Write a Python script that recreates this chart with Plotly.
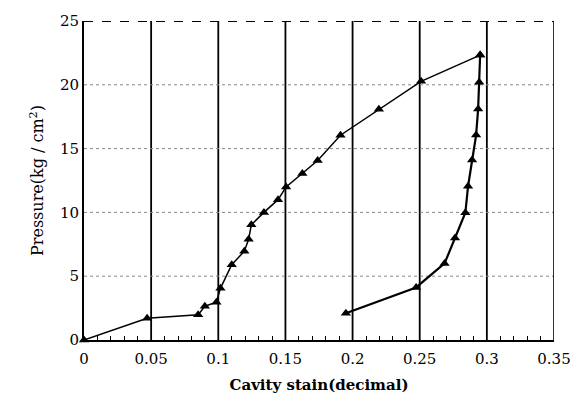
import plotly.graph_objects as go

# Loading branch
load_strain = [0.0, 0.047, 0.085, 0.090, 0.0986, 0.1016, 0.110, 0.1194, 0.1226, 0.1246,
               0.134, 0.1445, 0.1505, 0.1626, 0.174, 0.191, 0.2196, 0.251, 0.295]
load_pressure = [0.0, 1.7, 1.97, 2.65, 2.96, 4.05, 5.9, 6.96, 7.9, 9.03,
                 10.0, 11.0, 12.0, 13.04, 14.07, 16.05, 18.08, 20.27, 22.33]

# Unloading branch
unload_strain = [0.295, 0.2943, 0.2935, 0.292, 0.289, 0.286, 0.284, 0.2763, 0.2685, 0.2473, 0.195]
unload_pressure = [22.33, 20.2, 18.1, 16.06, 14.1, 12.05, 9.97, 8.0, 6.0, 4.12, 2.1]

x_ticks = [0, 0.05, 0.1, 0.15, 0.2, 0.25, 0.3, 0.35]
x_tick_labels = ["0", "0.05", "0.1", "0.15", "0.2", "0.25", "0.3", "0.35"]
y_ticks = [0, 5, 10, 15, 20, 25]

font_family = "DejaVu Serif, Liberation Serif, serif"

fig = go.Figure()
fig.add_trace(go.Scatter(
    x=load_strain, y=load_pressure, mode="lines+markers",
    line=dict(color="black", width=1.5),
    marker=dict(symbol="triangle-up", size=9, color="black"),
    showlegend=False, cliponaxis=False))
fig.add_trace(go.Scatter(
    x=unload_strain, y=unload_pressure, mode="lines+markers",
    line=dict(color="black", width=2.2),
    marker=dict(symbol="triangle-up", size=9, color="black"),
    showlegend=False, cliponaxis=False))

# vertical solid grid lines
for xv in x_ticks[1:-1]:
    fig.add_shape(type="line", xref="x", yref="y", x0=xv, x1=xv, y0=0, y1=25,
                  line=dict(color="black", width=1.8), layer="below")
# horizontal dotted grid lines
for yv in y_ticks[1:-1]:
    fig.add_shape(type="line", xref="x", yref="y", x0=0, x1=0.35, y0=yv, y1=yv,
                  line=dict(color="#888888", width=1, dash="dot"), layer="below")
# top border dashed, right border
fig.add_shape(type="line", xref="x", yref="y", x0=0, x1=0.35, y0=25, y1=25,
              line=dict(color="black", width=1.8, dash="dash"))
fig.add_shape(type="line", xref="x", yref="y", x0=0.35, x1=0.35, y0=0, y1=25,
              line=dict(color="black", width=1.6))

fig.update_xaxes(
    range=[0, 0.35], tickvals=x_ticks, ticktext=x_tick_labels,
    showgrid=False, zeroline=False, showline=True, linecolor="black", linewidth=2,
    ticks="inside", ticklen=5, tickcolor="black", ticklabelstandoff=4,
    minor=dict(dtick=0.01, ticks="inside", ticklen=4, tickcolor="black"),
    tickfont=dict(family=font_family, size=15, color="black"),
    title=dict(text="<b>Cavity stain(decimal)</b>",
               font=dict(family=font_family, size=15, color="black"), standoff=12))
fig.update_yaxes(
    range=[0, 25], tickvals=y_ticks,
    showgrid=False, zeroline=False, showline=True, linecolor="black", linewidth=2,
    ticks="", tickfont=dict(family=font_family, size=15, color="black"),
    title=dict(text="Pressure(kg / cm<sup>2</sup>)",
               font=dict(family=font_family, size=16, color="black"), standoff=12))

fig.update_layout(
    width=583, height=403,
    margin=dict(l=84, r=28, t=18, b=62),
    plot_bgcolor="white", paper_bgcolor="white")

fig.write_html("out.html")
